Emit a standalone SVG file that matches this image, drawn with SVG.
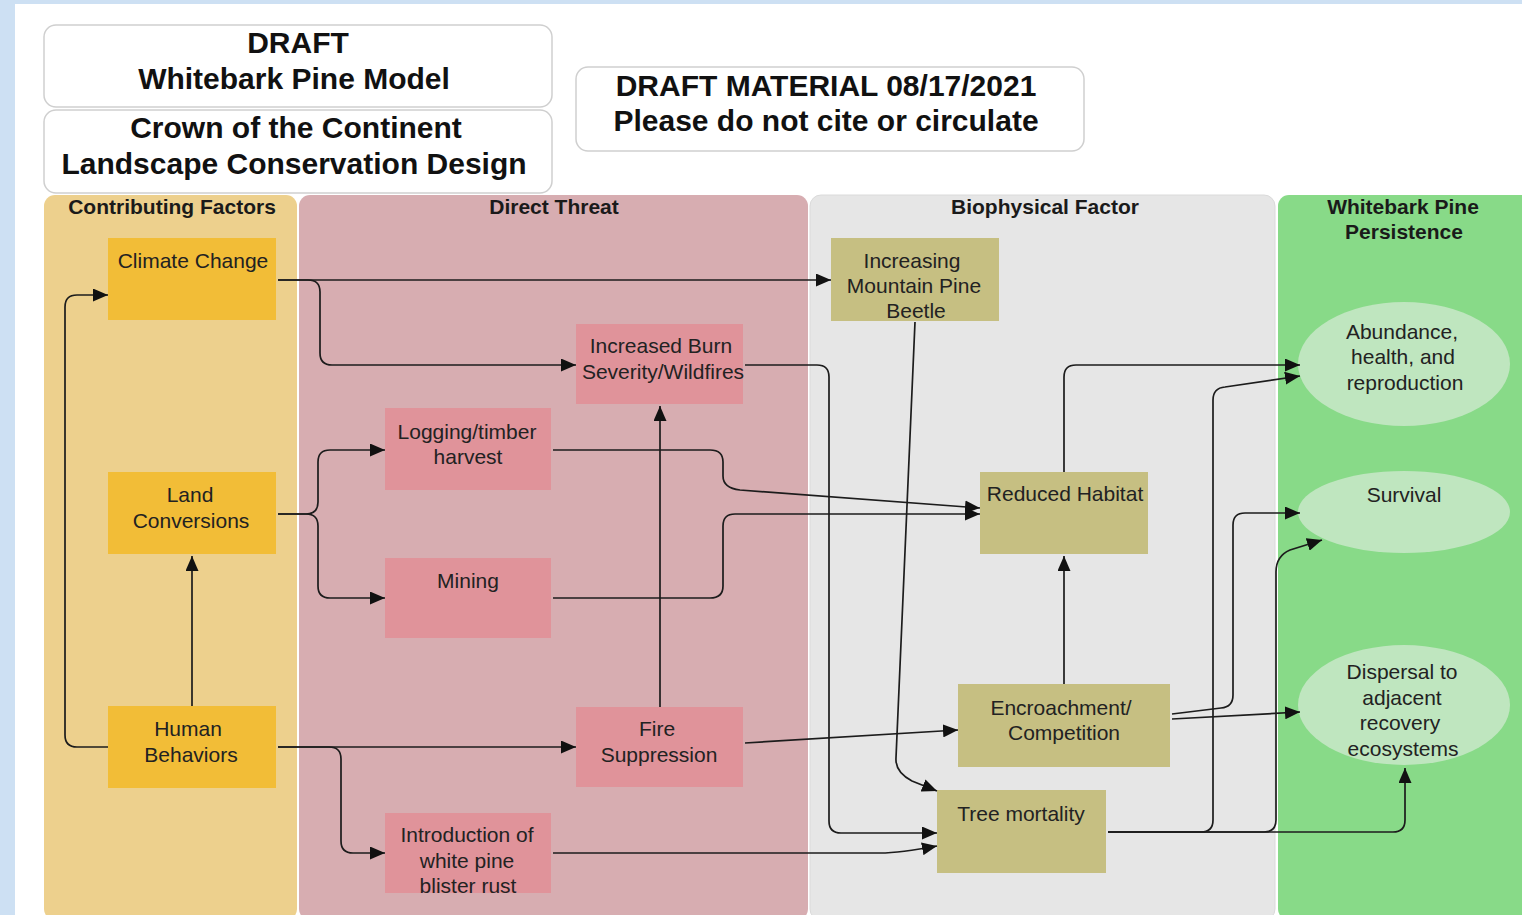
<svg xmlns="http://www.w3.org/2000/svg" width="1522" height="915" viewBox="0 0 1522 915">
  <defs>
    <marker id="arrow" markerUnits="userSpaceOnUse" markerWidth="15" markerHeight="13" refX="15" refY="6.5" orient="auto">
      <path d="M0,0 L15,6.5 L0,13 z" fill="#111"/>
    </marker>
  </defs>
  <style>
    .title { font-family: "Liberation Sans", Arial, sans-serif; font-weight: bold; font-size: 30px; fill: #111; text-anchor: middle; }
    .lane-title { font-family: "Liberation Sans", Arial, sans-serif; font-weight: bold; font-size: 21px; fill: #1a1a1a; text-anchor: middle; }
    .label { font-family: "Liberation Sans", Arial, sans-serif; font-size: 21px; fill: #222; text-anchor: middle; }
    .hdr { fill: #ffffff; stroke: #cfcfcf; stroke-width: 1.5; }
    .cf { fill: #f2bd37; }
    .dt { fill: #e0939a; }
    .bf { fill: #c6bf82; }
    .wp { fill: #bfe6bf; }
    .conn path { fill: none; stroke: #1c1c1c; stroke-width: 1.7; marker-end: url(#arrow); }
  </style>

  <!-- page background and frame -->
  <rect x="0" y="0" width="1522" height="915" fill="#cde0f3"/>
  <rect x="15" y="4" width="1507" height="911" fill="#ffffff"/>

  <!-- header boxes -->
  <g id="header-model">
    <rect class="hdr" x="44" y="25" width="508" height="82" rx="12"/>
    <text class="title" x="298" y="53">DRAFT</text>
    <text class="title" x="294" y="89">Whitebark Pine Model</text>
  </g>
  <g id="header-lcd">
    <rect class="hdr" x="44" y="110" width="508" height="83" rx="12"/>
    <text class="title" x="296" y="138">Crown of the Continent</text>
    <text class="title" x="294" y="174">Landscape Conservation Design</text>
  </g>
  <g id="header-draft">
    <rect class="hdr" x="576" y="67" width="508" height="84" rx="12"/>
    <text class="title" x="826" y="96">DRAFT MATERIAL 08/17/2021</text>
    <text class="title" x="826" y="131">Please do not cite or circulate</text>
  </g>

  <!-- swimlanes -->
  <g id="lane-contributing">
    <rect x="44" y="195" width="253" height="725" rx="11" fill="#edd08d"/>
    <text class="lane-title" x="172" y="214">Contributing Factors</text>
  </g>
  <g id="lane-direct">
    <rect x="299" y="195" width="509" height="725" rx="11" fill="#d7adb1"/>
    <text class="lane-title" x="554" y="214">Direct Threat</text>
  </g>
  <g id="lane-biophysical">
    <rect x="810" y="195" width="465" height="725" rx="11" fill="#e6e6e6" stroke="#dadada" stroke-width="1"/>
    <text class="lane-title" x="1045" y="214">Biophysical Factor</text>
  </g>
  <g id="lane-persistence">
    <rect x="1278" y="195" width="260" height="725" rx="11" fill="#88da88"/>
    <text class="lane-title" x="1403" y="214">Whitebark Pine</text>
    <text class="lane-title" x="1404" y="239">Persistence</text>
  </g>

  <!-- contributing factors -->
  <g id="climate-change">
    <rect class="cf" x="108" y="238" width="168" height="82"/>
    <text class="label" x="193" y="268">Climate Change</text>
  </g>
  <g id="land-conversions">
    <rect class="cf" x="108" y="472" width="168" height="82"/>
    <text class="label" x="190" y="502">Land</text>
    <text class="label" x="191" y="528">Conversions</text>
  </g>
  <g id="human-behaviors">
    <rect class="cf" x="108" y="706" width="168" height="82"/>
    <text class="label" x="188" y="736">Human</text>
    <text class="label" x="191" y="762">Behaviors</text>
  </g>

  <!-- direct threats -->
  <g id="burn-severity">
    <rect class="dt" x="576" y="324" width="167" height="80"/>
    <text class="label" x="661" y="353">Increased Burn</text>
    <text class="label" x="663" y="379">Severity/Wildfires</text>
  </g>
  <g id="logging">
    <rect class="dt" x="385" y="408" width="166" height="82"/>
    <text class="label" x="467" y="439">Logging/timber</text>
    <text class="label" x="468" y="464">harvest</text>
  </g>
  <g id="mining">
    <rect class="dt" x="385" y="558" width="166" height="80"/>
    <text class="label" x="468" y="588">Mining</text>
  </g>
  <g id="fire-suppression">
    <rect class="dt" x="576" y="707" width="167" height="80"/>
    <text class="label" x="657" y="736">Fire</text>
    <text class="label" x="659" y="762">Suppression</text>
  </g>
  <g id="blister-rust">
    <rect class="dt" x="385" y="813" width="166" height="80"/>
    <text class="label" x="467" y="842">Introduction of</text>
    <text class="label" x="467" y="868">white pine</text>
    <text class="label" x="468" y="893">blister rust</text>
  </g>

  <!-- biophysical factors -->
  <g id="mountain-pine-beetle">
    <rect class="bf" x="831" y="238" width="168" height="83"/>
    <text class="label" x="912" y="268">Increasing</text>
    <text class="label" x="914" y="293">Mountain Pine</text>
    <text class="label" x="916" y="318">Beetle</text>
  </g>
  <g id="reduced-habitat">
    <rect class="bf" x="980" y="472" width="168" height="82"/>
    <text class="label" x="1065" y="501">Reduced Habitat</text>
  </g>
  <g id="encroachment">
    <rect class="bf" x="958" y="684" width="212" height="83"/>
    <text class="label" x="1061" y="715">Encroachment/</text>
    <text class="label" x="1064" y="740">Competition</text>
  </g>
  <g id="tree-mortality">
    <rect class="bf" x="937" y="790" width="169" height="83"/>
    <text class="label" x="1021" y="821">Tree mortality</text>
  </g>

  <!-- persistence outcomes -->
  <g id="abundance">
    <ellipse class="wp" cx="1404" cy="364" rx="106" ry="62"/>
    <text class="label" x="1402" y="339">Abundance,</text>
    <text class="label" x="1403" y="364">health, and</text>
    <text class="label" x="1405" y="390">reproduction</text>
  </g>
  <g id="survival">
    <ellipse class="wp" cx="1404" cy="512" rx="106" ry="41"/>
    <text class="label" x="1404" y="502">Survival</text>
  </g>
  <g id="dispersal">
    <ellipse class="wp" cx="1404" cy="705" rx="106" ry="60"/>
    <text class="label" x="1402" y="679">Dispersal to</text>
    <text class="label" x="1402" y="705">adjacent</text>
    <text class="label" x="1400" y="730">recovery</text>
    <text class="label" x="1403" y="756">ecosystems</text>
  </g>

  <!-- connectors -->
  <g id="connectors" class="conn">
    <path d="M278,280 H831"/>
    <path d="M278,280 H308 Q320,280 320,292 V353 Q320,365 332,365 H576"/>
    <path d="M108,747 H77 Q65,747 65,735 V307 Q65,295 77,295 H108"/>
    <path d="M192,706 V556"/>
    <path d="M278,747 H576"/>
    <path d="M278,747 H329 Q341,747 341,759 V841 Q341,853 353,853 H385"/>
    <path d="M278,514 H306 Q318,514 318,502 V462 Q318,450 330,450 H385"/>
    <path d="M278,514 H306 Q318,514 318,526 V586 Q318,598 330,598 H385"/>
    <path d="M553,450 H710 Q723,450 723,462 V476 Q723,488 740,490 L980,508"/>
    <path d="M553,598 H710 Q723,598 723,586 V526 Q723,514 735,514 H980"/>
    <path d="M660,707 V406"/>
    <path d="M745,743 L958,730"/>
    <path d="M745,365 H817 Q829,365 829,377 V821 Q829,833 841,833 H937"/>
    <path d="M915,322 L896,758 Q895,772 912,781 L937,791"/>
    <path d="M553,853 H880 Q900,853 937,846"/>
    <path d="M1064,684 V556"/>
    <path d="M1064,472 V377 Q1064,365 1076,365 H1300"/>
    <path d="M1108,832 H1201 Q1213,832 1213,820 V400 Q1213,388 1225,387 L1300,376"/>
    <path d="M1108,832 H1264 Q1276,832 1276,820 V572 Q1276,556 1290,550 L1322,540"/>
    <path d="M1108,832 H1393 Q1405,832 1405,820 V768"/>
    <path d="M1172,714 L1221,708 Q1233,707 1233,695 V525 Q1233,513 1245,513 H1300"/>
    <path d="M1172,719 L1300,712"/>
  </g>
</svg>
